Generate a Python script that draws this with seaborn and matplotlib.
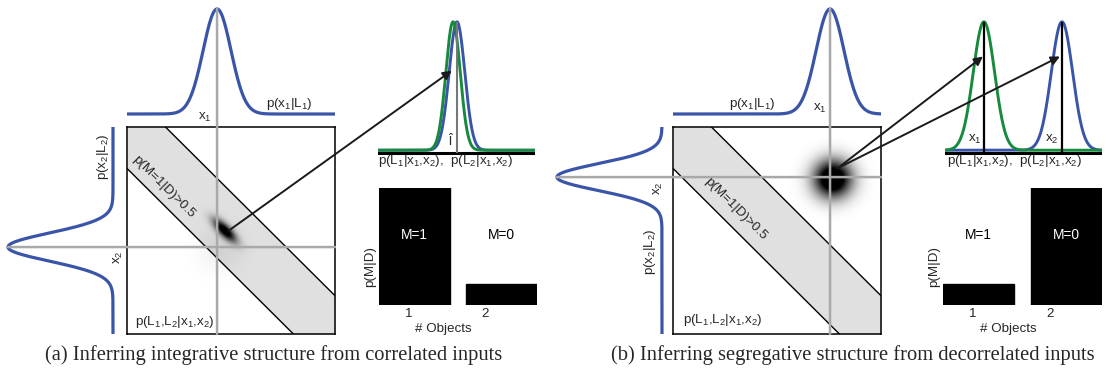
import numpy as np
import matplotlib
matplotlib.use("Agg")
import matplotlib.pyplot as plt
import seaborn as sns
from matplotlib.patches import ConnectionPatch

sns.set_theme(style="white")
plt.rcParams["font.family"] = ["Liberation Sans", "DejaVu Sans"]
plt.rcParams["mathtext.fontset"] = "custom"
plt.rcParams["mathtext.rm"] = "Liberation Sans"
plt.rcParams["mathtext.it"] = "Liberation Sans:italic"
plt.rcParams["mathtext.bf"] = "Liberation Sans:bold"

# ---------------- data ----------------
captions = ["(a) Inferring integrative structure from correlated inputs",
            "(b) Inferring segregative structure from decorrelated inputs"]
# observed cues (normalised square coordinates)
x1_obs = [0.433, 0.755]
x2_obs = [0.420, 0.758]
# marginal likelihood widths
sd_x1 = [0.067, 0.067]
sd_x2 = [0.068, 0.065]
# region where p(M=1|D) > 0.5 : band_low <= x1 + x2 <= band_high
band_low = 0.80
band_high = 1.185
# joint posterior blob
blob_u = [0.47, 0.765]
blob_v = [0.50, 0.750]
blob_sd_along = [0.05, 0.063]
blob_sd_across = [0.019, 0.063]
blob_gain = [1.2, 1.4]
halo_u = [0.447, 0.765]
halo_v = [0.406, 0.750]
halo_sd = [0.075, 0.07]
halo_alpha = [0.06, 0.0]
# arrow start (square coords) and targets (posterior axes coords)
arrow_start = [[(0.49, 0.50)], [(0.79, 0.80), (0.79, 0.80)]]
arrow_target = [[(0.47, 0.62)], [(0.242, 0.73), (0.732, 0.73)]]
# posteriors over source locations
mu_L1 = [0.478, 0.248]
mu_L2 = [0.503, 0.745]
sd_L1 = [0.046, 0.068]
sd_L2 = [0.050, 0.068]
# model posterior p(M|D)
n_objects = ["1", "2"]
p_M = [[0.85, 0.15], [0.15, 0.85]]
M_labels = ["M=1", "M=0"]

BLUE = "#3a55a8"
GREEN = "#178a3e"
GREY = "#a9a9a9"
BAND = "#e0e0e0"

W, H = 1107, 376
fig = plt.figure(figsize=(W / 100, H / 100), dpi=100)


def add_ax(x0, y0, x1, y1):
    ax = fig.add_axes([x0 / W, 1 - y1 / H, (x1 - x0) / W, (y1 - y0) / H])
    ax.set_facecolor("none")
    return ax


def gauss(x, m, s):
    return np.exp(-0.5 * ((x - m) / s) ** 2)


layouts = [
    dict(sq=(127, 127, 335, 334), top=(127, 5, 335, 116), left=(0, 127, 116, 334),
         left_xlim=(1.076, -0.0286), post=(378, 15, 535, 156), bars=(379, 188, 537, 305)),
    dict(sq=(673, 127, 881, 334), top=(673, 5, 881, 116), left=(545, 127, 665, 334),
         left_xlim=(1.114, -0.0286), post=(945, 15, 1102, 156), bars=(943, 188, 1102, 305)),
]

grid = np.linspace(0, 1, 400)
FS = 9.6

for i in range(2):
    L = layouts[i]
    # ---------- joint square ----------
    sq = add_ax(*L["sq"])
    sq.set_xlim(0, 1)
    sq.set_ylim(0, 1)
    sq.set_xticks([])
    sq.set_yticks([])
    for sp in sq.spines.values():
        sp.set_color("black")
        sp.set_linewidth(1.1)
        sp.set_visible(True)
    sq.fill_between(grid, np.clip(band_low - grid, 0, 1), np.clip(band_high - grid, 0, 1),
                    color=BAND, lw=0, zorder=1)
    for c in (band_low, band_high):
        sns.lineplot(x=grid, y=c - grid, color="black", lw=1.0, ax=sq, zorder=4)
    sq.set_xlim(0, 1)
    sq.set_ylim(0, 1)

    U, V = np.meshgrid(np.linspace(0, 1, 400), np.linspace(0, 1, 400))
    du, dv = U - blob_u[i], V - blob_v[i]
    along = (du - dv) / np.sqrt(2)
    across = (du + dv) / np.sqrt(2)
    dens = np.exp(-0.5 * ((along / blob_sd_along[i]) ** 2 + (across / blob_sd_across[i]) ** 2))
    halo = halo_alpha[i] * np.exp(-0.5 * (((U - halo_u[i]) ** 2 + (V - halo_v[i]) ** 2) / halo_sd[i] ** 2))
    alpha = np.clip(blob_gain[i] * dens + halo, 0, 1)
    rgba = np.zeros(alpha.shape + (4,))
    rgba[..., 3] = alpha
    sq.imshow(rgba, origin="lower", extent=(0, 1, 0, 1), aspect="auto", zorder=2,
              interpolation="bilinear")
    sq.text(0.23 if i == 0 else 0.24, 0.06 if i == 0 else 0.068,
            r"p(L$_1$,L$_2$|x$_1$,x$_2$)", fontsize=FS, ha="center", va="center", zorder=5)
    tu, tv = (0.178, 0.712) if i == 0 else (0.302, 0.605)
    sq.text(tu, tv, "p(M=1|D)>0.5", fontsize=FS, rotation=-45, rotation_mode="anchor",
            ha="center", va="center", zorder=5)

    # ---------- top marginal p(x1|L1) ----------
    top = add_ax(*L["top"])
    sns.lineplot(x=grid, y=gauss(grid, x1_obs[i], sd_x1[i]), color=BLUE, lw=2.3, ax=top)
    top.set_xlim(0, 1)
    top.set_ylim(-0.019, 1.038)
    top.set_axis_off()
    if i == 0:
        top.text(0.375, -0.035, r"x$_1$", fontsize=FS, ha="center", va="center", clip_on=False)
        top.text(0.78, 0.02, r"p(x$_1$|L$_1$)", fontsize=FS, ha="center", va="bottom")
    else:
        top.text(0.707, 0.05, r"x$_1$", fontsize=FS, ha="center", va="center", clip_on=False)
        top.text(0.38, 0.02, r"p(x$_1$|L$_1$)", fontsize=FS, ha="center", va="bottom")

    # ---------- left marginal p(x2|L2) ----------
    left = add_ax(*L["left"])
    sns.lineplot(x=gauss(grid, x2_obs[i], sd_x2[i]), y=grid, orient="y", sort=False,
                 estimator=None, color=BLUE, lw=2.3, ax=left)
    left.set_xlim(*L["left_xlim"])
    left.set_ylim(0, 1)
    left.set_axis_off()
    if i == 0:
        left.text(0.095, 0.855, r"p(x$_2$|L$_2$)", fontsize=FS, rotation=90, ha="center", va="center")
        left.text(-0.048, 0.372, r"x$_2$", fontsize=FS, rotation=90, ha="center", va="center",
                  clip_on=False)
    else:
        left.text(0.114, 0.396, r"p(x$_2$|L$_2$)", fontsize=FS, rotation=90, ha="center", va="center")
        left.text(0.035, 0.705, r"x$_2$", fontsize=FS, rotation=90, ha="center", va="center",
                  clip_on=False)

    # grey cross-hair lines through the observed cues
    fig.add_artist(ConnectionPatch(xyA=(x1_obs[i], 1.0), coordsA=top.transData,
                                   xyB=(x1_obs[i], 0.0), coordsB=sq.transData,
                                   color=GREY, lw=1.8, zorder=3))
    fig.add_artist(ConnectionPatch(xyA=(1.0, x2_obs[i]), coordsA=left.transData,
                                   xyB=(1.0, x2_obs[i]), coordsB=sq.transData,
                                   color=GREY, lw=1.8, zorder=3))

    # ---------- posterior over locations ----------
    post = add_ax(*L["post"])
    px = np.linspace(0, 1, 400)
    post.axhline(-0.022, color="black", lw=2.2, zorder=1)
    sns.lineplot(x=px, y=gauss(px, mu_L2[i], sd_L2[i]), color=BLUE, lw=2.1, ax=post, zorder=2)
    sns.lineplot(x=px, y=gauss(px, mu_L1[i], sd_L1[i]), color=GREEN, lw=2.1, ax=post, zorder=3)
    post.set_xlim(0, 1)
    post.set_ylim(-0.045, 1.053)
    post.set_axis_off()
    if i == 0:
        post.vlines(mu_L2[i], -0.02, 1.0, color="#777777", lw=1.5, zorder=4)
        post.text(0.468, 0.075, r"$\hat{\mathrm{l}}$", fontsize=FS, ha="center", va="center")
    else:
        post.vlines([mu_L1[i], mu_L2[i]], -0.02, 1.0, color="black", lw=1.6, zorder=4)
        post.text(0.19, 0.085, r"x$_1$", fontsize=FS, ha="center", va="center")
        post.text(0.68, 0.085, r"x$_2$", fontsize=FS, ha="center", va="center")
    post.text(0.43 if i == 0 else 0.446, -0.085,
              r"p(L$_1$|x$_1$,x$_2$),  p(L$_2$|x$_1$,x$_2$)", fontsize=FS,
              ha="center", va="center", clip_on=False)

    # arrows from joint posterior to marginal posteriors
    for s, t in zip(arrow_start[i], arrow_target[i]):
        fig.add_artist(ConnectionPatch(xyA=s, coordsA=sq.transData, xyB=t, coordsB=post.transData,
                                       arrowstyle="-|>", mutation_scale=13, lw=1.4,
                                       color="#1a1a1a", fc="#1a1a1a", zorder=6))

    # ---------- p(M|D) bars ----------
    bx = add_ax(*L["bars"])
    sns.barplot(x=n_objects, y=p_M[i], color="black", saturation=1, width=0.816,
                edgecolor="black", ax=bx)
    bx.set_xlim(-0.408, 1.408)
    bx.set_ylim(0, 0.85)
    for sp in bx.spines.values():
        sp.set_visible(False)
    bx.set_xticks([-0.07, 0.81])
    bx.set_xticklabels(n_objects, fontsize=FS)
    bx.set_yticks([])
    bx.tick_params(axis="x", length=0, pad=2.0)
    bx.set_xlabel("# Objects", fontsize=FS)
    bx.xaxis.set_label_coords(0.41, -0.15)
    bx.set_ylabel("p(M|D)", fontsize=FS)
    bx.yaxis.set_label_coords(-0.02, 0.325)
    for k, lab in enumerate(M_labels):
        col = "white" if p_M[i][k] > 0.5 else "black"
        bx.text(k, 0.51, lab, color=col, fontsize=FS + 0.3, ha="center", va="center")

fig.text(274 / W, 1 - 355 / H, captions[0], family="Liberation Serif", fontsize=14.8,
         ha="center", va="center")
fig.text(853 / W, 1 - 355 / H, captions[1], family="Liberation Serif", fontsize=14.8,
         ha="center", va="center")

fig.savefig("out.png", dpi=100)
